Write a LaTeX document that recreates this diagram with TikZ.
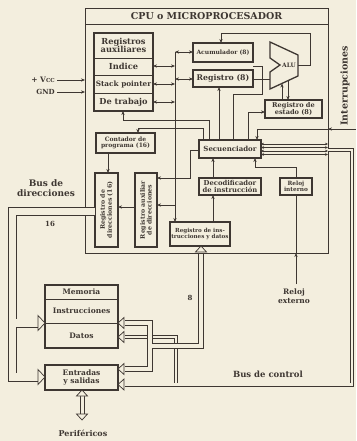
\documentclass[tikz,border=0pt]{standalone}
\usepackage{fontspec}
\setmainfont{DejaVu Serif}
\usetikzlibrary{arrows.meta}
\definecolor{bg}{RGB}{243,238,222}
\definecolor{ink}{RGB}{62,55,50}
\newcommand{\fsz}[1]{\fontsize{#1}{#1}\selectfont}
\begin{document}
\begin{tikzpicture}[x=1pt,y=-1pt,
  box/.style={draw=ink, line width=1.3pt, fill=bg, inner sep=0pt, outer sep=0pt, text=ink, align=center},
  txt/.style={text=ink, inner sep=0pt, align=center},
  ln/.style={draw=ink, line width=0.6pt},
  arr/.style={ln, -{Stealth[length=4pt,width=3.2pt]}},
  darr/.style={ln, {Stealth[length=4pt,width=3.2pt]}-{Stealth[length=4pt,width=3.2pt]}},
  bus/.style={draw=ink, line width=0.7pt, double=bg},
  harrow/.pic={\draw[draw=ink, fill=bg, line width=0.7pt] (0,0) -- (-7,-7.5) -- (-7,7.5) -- cycle;},
  sarrow/.pic={\draw[draw=ink, fill=bg, line width=0.7pt] (0,0) -- (-6,-5.5) -- (-6,5.5) -- cycle;}
]
\fill[bg] (0,0) rectangle (356,441);
\useasboundingbox (0,0) rectangle (356,441);

% CPU
\node[box, line width=1pt, minimum width=243pt, minimum height=244pt] (cpu) at (206.5,131) {};
\draw[ln, line width=0.9pt] (cpu.west |- 0,24) -- (cpu.east |- 0,24);
\node[txt, font=\bfseries\fsz{9.5}] (title) at (206.5,16.5) {CPU o MICROPROCESADOR};

% Registros auxiliares
\node[box, minimum width=59pt, minimum height=78pt] (regaux) at (123.5,72) {};
\foreach \yy in {58,75,93} \draw[ln, line width=0.9pt] (regaux.west |- 0,\yy) -- (regaux.east |- 0,\yy);
\node[txt, font=\bfseries\fsz{8.3}] (ra1) at (123.5,45.5) {Registros\\[0.5pt]auxiliares};
\node[txt, font=\bfseries\fsz{8.3}] (ra2) at (123.5,66.5) {Indice};
\node[txt, font=\bfseries\fsz{7.3}] (ra3) at (123.5,84) {Stack pointer};
\node[txt, font=\bfseries\fsz{8.2}] (ra4) at (123.5,102) {De trabajo};

% registers
\node[box, font=\bfseries\fsz{6}, minimum width=60pt, minimum height=19pt] (acum) at (223,52.5) {Acumulador (8)};
\node[box, font=\bfseries\fsz{7.8}, minimum width=60pt, minimum height=17pt] (reg8) at (223,78.5) {Registro (8)};
\node[box, font=\bfseries\fsz{6.6}, minimum width=57pt, minimum height=18pt] (estado) at (293.5,109) {Registro de\\estado (8)};
\node[box, font=\bfseries\fsz{6}, minimum width=59pt, minimum height=20pt] (cont) at (125.5,143) {Contador de\\programa (16)};
\node[box, font=\bfseries\fsz{7}, minimum width=62pt, minimum height=18pt] (sec) at (230,149) {Secuenciador};
\node[box, font=\bfseries\fsz{6.8}, minimum width=62pt, minimum height=17pt] (deco) at (230,186.5) {Decodificador\\de instrucción};
\node[box, font=\bfseries\fsz{5.8}, minimum width=32pt, minimum height=17pt] (reloj) at (296,186.5) {Reloj\\interno};
\node[box, minimum width=23pt, minimum height=74pt] (regdir) at (106.5,210) {};
\node[txt, font=\bfseries\fsz{6.2}, rotate=90] (regdirt) at (106.5,210) {Registro de\\[0.6pt]direcciones (16)};
\node[box, minimum width=22pt, minimum height=74pt] (regauxdir) at (146,210) {};
\node[txt, font=\bfseries\fsz{6.2}, rotate=90] (regauxdirt) at (146,210) {Registro auxiliar\\[0.6pt]de direcciones};
\node[box, font=\bfseries\fsz{5.6}, minimum width=60pt, minimum height=24pt] (reginst) at (200,234) {Registro de ins-\\trucciones y datos};

% ALU
\coordinate (a1) at (270,42);
\coordinate (a2) at (298,55);
\coordinate (a3) at (298,76);
\coordinate (a4) at (270,89);
\draw[draw=ink, fill=bg, line width=1.3pt, line join=miter] (a1) -- (a2) -- (a3) -- (a4) -- (270,72) -- (280,65) -- (270,58) -- cycle;
\node[txt, font=\bfseries\fsz{6}] (alu) at (289,65) {ALU};

% internal bus
\coordinate (bt) at (175,52);
\draw[arr] (bt) -- (reginst.north -| bt);
\draw[darr] (bt) -- (acum.west |- bt);
\draw[darr] (175,79) -- (reg8.west |- 0,79);
\foreach \yy in {66,84,102} \draw[darr] (regaux.east |- 0,\yy) -- (175,\yy);
\draw[arr] (175,205) -- (regauxdir.east |- 0,205);
\draw[arr] (sec.west |- 0,150) -- (190,150) -- (190,178) -- (regauxdir.east |- 0,178);
\draw[arr] (regauxdir.west |- 0,207) -- (regdir.east |- 0,207);
\draw[arr] (cont.south -| 108,0) -- (regdir.north -| 108,0);

% control lines from secuenciador
\draw[arr] (sec.north -| 203,0) -- (203,128) -- (138,128) -- (cont.north -| 138,0);
\draw[arr] (sec.north -| 209,0) -- (209,120) -- (123,120) -- (regaux.south -| 123,0);
\draw[arr] (sec.north -| 219,0) -- (reg8.south -| 219,0);
\draw[ln] (sec.north -| 233,0) -- (233,94) -- (262,94) -- (262,66) -- (253,66);
\draw[arr] (sec.north -| 248,0) -- (248,112) -- (estado.west |- 0,112);
\draw[ln] (reg8.east |- 0,79) -- (270,79);
\draw[arr] (a2 |- 0,65) -- (310,65) -- (310,33) -- (221,33) -- (acum.north -| 221,0);
\draw[arr] (estado.north -| 282,0) -- (282,83.5);
\draw[arr] (288,80.6) -- (estado.north -| 288,0);

% interrupts
\draw[ln] (356,129) -- (257,129);
\draw[arr] (257,129) -- (sec.north -| 257,0);
\draw[arr] (345,129) -- (cpu.east |- 0,129);
\node[txt, font=\bfseries\fsz{9.5}, rotate=90] (intr) at (345,86) {Interrupciones};

% secuenciador outputs
\foreach \yy in {144,147.5,151,154.5} {
  \draw[ln, {Stealth[length=3pt,width=2.6pt]}-{Stealth[length=3pt,width=2.6pt]}] (sec.east |- 0,\yy) -- (cpu.east |- 0,\yy);
}

% clock
\draw[arr] (296,284) -- (cpu.south -| 296,0);
\draw[ln] (cpu.south -| 296,0) -- (reloj.south);
\draw[arr] (reloj.north) -- (296,167) -- (255,167) -- (sec.south -| 255,0);
\draw[arr] (deco.north -| 213,0) -- (sec.south -| 213,0);
\draw[arr] (reginst.north -| 213,0) -- (deco.south -| 213,0);

% power
\draw[arr] (57,80) -- (cpu.west |- 0,80);
\draw[arr] (57,92) -- (cpu.west |- 0,92);
\node[txt, font=\bfseries\fsz{7.5}, anchor=east] (vcc) at (55,80) {+ V{\fsz{5.5}CC}};
\node[txt, font=\bfseries\fsz{7}, anchor=east] (gnd) at (55,92) {GND};

% memory and IO
\node[box, minimum width=73pt, minimum height=63pt] (mem) at (81.5,316.5) {};
\draw[ln, line width=0.9pt] (mem.west |- 0,299) -- (mem.east |- 0,299);
\draw[ln, line width=0.9pt] (mem.west |- 0,323) -- (mem.east |- 0,323);
\node[txt, font=\bfseries\fsz{7.5}] (memt) at (81.5,292) {Memoria};
\node[txt, font=\bfseries\fsz{7.5}] (inst) at (81.5,311) {Instrucciones};
\node[txt, font=\bfseries\fsz{7.5}] (datos) at (81.5,335.5) {Datos};
\node[box, font=\bfseries\fsz{7.5}, minimum width=73pt, minimum height=25pt] (es) at (81.5,377.5) {Entradas\\[1pt]y salidas};

% control bus
\draw[bus, double distance=2.6pt] (cpu.east |- 0,150) -- (352,150) -- (352,384.5) -- (125,384.5) (176,384.5) -- (176,337) -- (125,337);
\pic at (mem.east |- 0,337) [rotate=180] {sarrow};
\pic at (es.east |- 0,384.5) [rotate=180] {sarrow};

% data bus
\draw[bus, double distance=4.6pt] (125,323) -- (150,323) -- (150,369) -- (125,369) (150,346) -- (201,346) -- (201,254);
\pic at (mem.east |- 0,323) [rotate=180] {sarrow};
\pic at (es.east |- 0,369) [rotate=180] {sarrow};
\pic at (reginst.south -| 201,0) [rotate=90] {sarrow};
\node[txt, font=\bfseries\fsz{7}] (eight) at (190,298) {8};

% address bus
\draw[bus, double distance=7.6pt] (regdir.west |- 0,211.5) -- (12.5,211.5) -- (12.5,377) -- (38,377) (12.5,323) -- (38,323);
\pic at (mem.west |- 0,323) {harrow};
\pic at (es.west |- 0,377) {harrow};
\node[txt, font=\bfseries\fsz{9}] (busdir) at (46,188) {Bus de\\[1pt]direcciones};
\node[txt, font=\bfseries\fsz{7}] (sixteen) at (50,224) {16};

% peripherals
\draw[ink, line width=0.8pt] (80,396) -- (80,414) (84,396) -- (84,414);
\pic at (es.south -| 82,0) [rotate=90] {sarrow};
\pic at (82,420) [rotate=-90] {sarrow};
\node[txt, font=\bfseries\fsz{8}] (perif) at (83,433) {Periféricos};

\node[txt, font=\bfseries\fsz{8.5}] (busctl) at (268,374) {Bus de control};
\node[txt, font=\bfseries\fsz{7.5}] (relext) at (294,296) {Reloj\\[1pt]externo};
\end{tikzpicture}
\end{document}
